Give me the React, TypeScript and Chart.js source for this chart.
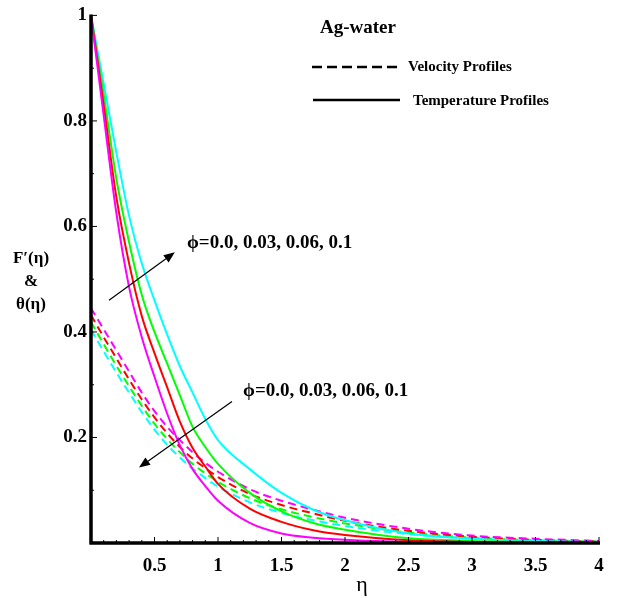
import React, { useEffect, useRef } from "react";
import { Chart, registerables } from "chart.js";

Chart.register(...registerables);

// ---------- data ----------
const ETA = [0, 0.1, 0.2, 0.3, 0.4, 0.5, 0.6, 0.7, 0.8, 0.9, 1.0, 1.25, 1.5, 1.75, 2, 2.5, 3, 3.5, 4];

// Temperature profiles θ(η) (solid)
const TEMP_MAGENTA = [1, 0.81, 0.625, 0.485, 0.39, 0.315, 0.245, 0.185, 0.14, 0.108, 0.08, 0.038, 0.018, 0.01, 0.006, 0.002, 0.001, 0.0, 0.0];
const TEMP_RED = [1, 0.83, 0.655, 0.53, 0.43, 0.36, 0.295, 0.23, 0.18, 0.145, 0.112, 0.065, 0.04, 0.024, 0.015, 0.005, 0.002, 0.001, 0.0];
const TEMP_GREEN = [1, 0.85, 0.69, 0.57, 0.47, 0.4, 0.34, 0.28, 0.22, 0.182, 0.15, 0.095, 0.06, 0.038, 0.025, 0.009, 0.004, 0.002, 0.001];
const TEMP_CYAN = [1, 0.87, 0.74, 0.62, 0.53, 0.46, 0.395, 0.335, 0.285, 0.235, 0.195, 0.14, 0.095, 0.063, 0.043, 0.018, 0.008, 0.004, 0.002];

// Velocity profiles F'(η) (dashed)
const VEL_MAGENTA = [0.445, 0.405, 0.365, 0.325, 0.285, 0.25, 0.22, 0.195, 0.172, 0.152, 0.135, 0.102, 0.08, 0.063, 0.048, 0.027, 0.014, 0.008, 0.004];
const VEL_RED = [0.432, 0.39, 0.35, 0.31, 0.272, 0.238, 0.208, 0.182, 0.16, 0.142, 0.125, 0.093, 0.072, 0.056, 0.042, 0.023, 0.012, 0.006, 0.003];
const VEL_GREEN = [0.419, 0.377, 0.336, 0.297, 0.26, 0.226, 0.197, 0.172, 0.15, 0.132, 0.116, 0.085, 0.064, 0.049, 0.037, 0.02, 0.01, 0.005, 0.003];
const VEL_CYAN = [0.404, 0.363, 0.323, 0.285, 0.248, 0.215, 0.186, 0.162, 0.141, 0.123, 0.107, 0.077, 0.057, 0.043, 0.032, 0.017, 0.009, 0.004, 0.002];

const SERIES_COLORS = ["#ff00ff", "#ff0000", "#00ff00", "#00ffff"];
const TEMP_SERIES = [TEMP_MAGENTA, TEMP_RED, TEMP_GREEN, TEMP_CYAN];
const VEL_SERIES = [VEL_MAGENTA, VEL_RED, VEL_GREEN, VEL_CYAN];

const X_TICK_LABELS = ["0.5", "1", "1.5", "2", "2.5", "3", "3.5", "4"];
const Y_TICK_LABELS = ["0.2", "0.4", "0.6", "0.8", "1"];

const LEGEND_TITLE = "Ag-water";
const LEGEND_VELOCITY = "Velocity Profiles";
const LEGEND_TEMPERATURE = "Temperature Profiles";
const PHI_LABEL = "ϕ=0.0, 0.03, 0.06, 0.1";
const Y_TITLE_LINES = ["F′(η)", "&", "θ(η)"];
const X_TITLE = "η";

// annotation anchors in data units [η, value]
const ARROW_UP = { from: [0.142, 0.46], to: [0.66, 0.551], text: [0.756, 0.568] };
const ARROW_DOWN = { from: [1.11, 0.268], to: [0.378, 0.143], text: [1.197, 0.287] };

const SERIF = "'Liberation Serif', 'Times New Roman', 'DejaVu Serif', serif";

function labelFor(list: string[], v: number): string {
  for (const l of list) {
    if (Math.abs(Number(l) - v) < 1e-6) return l;
  }
  return "";
}

function drawArrow(ctx: CanvasRenderingContext2D, x1: number, y1: number, x2: number, y2: number) {
  const ang = Math.atan2(y2 - y1, x2 - x1);
  const head = 11;
  const hw = 4.5;
  const bx = x2 - head * Math.cos(ang);
  const by = y2 - head * Math.sin(ang);
  ctx.beginPath();
  ctx.moveTo(x1, y1);
  ctx.lineTo(bx, by);
  ctx.stroke();
  ctx.beginPath();
  ctx.moveTo(x2, y2);
  ctx.lineTo(bx + hw * Math.sin(ang), by - hw * Math.cos(ang));
  ctx.lineTo(bx - hw * Math.sin(ang), by + hw * Math.cos(ang));
  ctx.closePath();
  ctx.fill();
}

const decorPlugin = {
  id: "decor",
  afterDraw(chart: any) {
    const ctx: CanvasRenderingContext2D = chart.ctx;
    const xs = chart.scales.x;
    const ys = chart.scales.y;
    const { left, right, top, bottom } = chart.chartArea;
    ctx.save();

    // axes
    ctx.strokeStyle = "#000";
    ctx.lineWidth = 3.5;
    ctx.setLineDash([]);
    ctx.beginPath();
    ctx.moveTo(left, top - 1);
    ctx.lineTo(left, bottom + 1.5);
    ctx.moveTo(left - 1.5, bottom);
    ctx.lineTo(right + 1, bottom);
    ctx.stroke();

    // tick marks (inside)
    ctx.lineWidth = 1;
    ctx.beginPath();
    for (const t of xs.ticks) {
      const px = xs.getPixelForValue(t.value);
      const major = labelFor(X_TICK_LABELS, t.value) !== "";
      const len = major ? 6 : 3;
      ctx.moveTo(px, bottom);
      ctx.lineTo(px, bottom - len);
    }
    for (const t of ys.ticks) {
      const py = ys.getPixelForValue(t.value);
      const major = labelFor(Y_TICK_LABELS, t.value) !== "";
      const len = major ? 6 : 3;
      ctx.moveTo(left, py);
      ctx.lineTo(left + len, py);
    }
    ctx.stroke();

    // arrows + phi labels
    ctx.lineWidth = 1.2;
    ctx.strokeStyle = "#000";
    ctx.fillStyle = "#000";
    for (const a of [ARROW_UP, ARROW_DOWN]) {
      drawArrow(
        ctx,
        xs.getPixelForValue(a.from[0]),
        ys.getPixelForValue(a.from[1]),
        xs.getPixelForValue(a.to[0]),
        ys.getPixelForValue(a.to[1])
      );
      ctx.font = `bold 19px ${SERIF}`;
      ctx.textAlign = "left";
      ctx.textBaseline = "middle";
      ctx.fillText(PHI_LABEL, xs.getPixelForValue(a.text[0]), ys.getPixelForValue(a.text[1]));
    }

    // legend
    ctx.textAlign = "left";
    ctx.textBaseline = "middle";
    ctx.font = `bold 19px ${SERIF}`;
    ctx.fillText(LEGEND_TITLE, 320, 28);
    ctx.lineWidth = 2.5;
    ctx.setLineDash([10, 5]);
    ctx.beginPath();
    ctx.moveTo(312, 67);
    ctx.lineTo(398, 67);
    ctx.stroke();
    ctx.setLineDash([]);
    ctx.beginPath();
    ctx.moveTo(313, 100);
    ctx.lineTo(400, 100);
    ctx.stroke();
    ctx.font = `bold 15px ${SERIF}`;
    ctx.fillText(LEGEND_VELOCITY, 408, 67);
    ctx.fillText(LEGEND_TEMPERATURE, 413, 101);

    // y title
    ctx.textAlign = "center";
    ctx.font = `bold 17px ${SERIF}`;
    Y_TITLE_LINES.forEach((s, i) => ctx.fillText(s, 31, 259 + i * 23));

    // x title
    ctx.font = `22px ${SERIF}`;
    ctx.fillText(X_TITLE, 362, 585);

    ctx.restore();
  },
};

export default function App() {
  const ref = useRef<HTMLCanvasElement | null>(null);

  useEffect(() => {
    if (!ref.current) return;
    const datasets: any[] = [];
    TEMP_SERIES.forEach((arr, i) => {
      datasets.push({
        label: `temp${i}`,
        data: ETA.map((x, j) => ({ x, y: arr[j] })),
        borderColor: SERIES_COLORS[i],
        borderWidth: 2,
        pointRadius: 0,
        fill: false,
        cubicInterpolationMode: "monotone",
        clip: false,
      });
    });
    VEL_SERIES.forEach((arr, i) => {
      datasets.push({
        label: `vel${i}`,
        data: ETA.map((x, j) => ({ x, y: arr[j] })),
        borderColor: SERIES_COLORS[i],
        borderWidth: 2,
        borderDash: [8, 5],
        pointRadius: 0,
        fill: false,
        cubicInterpolationMode: "monotone",
        clip: false,
      });
    });

    const chart = new Chart(ref.current, {
      type: "line",
      data: { datasets },
      options: {
        animation: false,
        responsive: false,
        maintainAspectRatio: false,
        layout: { padding: { top: 13, right: 30, left: 0, bottom: 0 } },
        plugins: { legend: { display: false }, tooltip: { enabled: false } },
        scales: {
          x: {
            type: "linear",
            min: 0,
            max: 4,
            grid: { display: false, drawTicks: false },
            border: { display: false },
            afterFit: (s: any) => {
              s.height = 55;
            },
            ticks: {
              stepSize: 0.1,
              autoSkip: false,
              maxRotation: 0,
              maxTicksLimit: 1000,
              padding: 12,
              color: "#000",
              font: { family: SERIF, size: 19, weight: "bold" },
              callback: (v: any) => labelFor(X_TICK_LABELS, Number(v)),
            },
          },
          y: {
            type: "linear",
            min: 0,
            max: 1,
            grid: { display: false, drawTicks: false },
            border: { display: false },
            afterFit: (s: any) => {
              s.width = 91;
            },
            ticks: {
              stepSize: 0.1,
              autoSkip: false,
              maxTicksLimit: 1000,
              padding: 4,
              color: "#000",
              font: { family: SERIF, size: 19, weight: "bold" },
              callback: (v: any) => labelFor(Y_TICK_LABELS, Number(v)),
            },
          },
        },
      },
      plugins: [decorPlugin],
    });
    return () => chart.destroy();
  }, []);

  return (
    <div style={{ position: "absolute", left: 0, top: 0, width: 629, height: 598, background: "#fff" }}>
      <canvas ref={ref} width={629} height={598} style={{ width: 629, height: 598 }} />
    </div>
  );
}
